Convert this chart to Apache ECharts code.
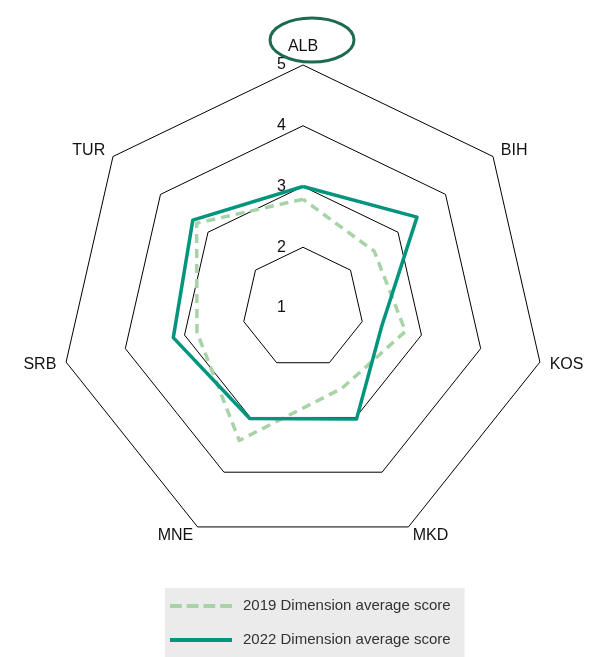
<!DOCTYPE html>
<html>
<head>
<meta charset="utf-8">
<script src="https://cdn.jsdelivr.net/npm/echarts@6/dist/echarts.min.js"></script>
<style>
  html, body { margin: 0; padding: 0; background: #ffffff; }
  #chart { width: 594px; height: 657px; }
</style>
</head>
<body>
<div id="chart"></div>
<script>
// Countries, listed clockwise from the top
const countries = ['ALB', 'BIH', 'KOS', 'MKD', 'MNE', 'SRB', 'TUR'];
const scores2019 = [2.79, 2.50, 2.73, 2.47, 3.42, 2.79, 3.24];
const scores2022 = [3.00, 3.40, 2.33, 3.03, 3.02, 3.19, 3.32];
const seriesNames = ['2019 Dimension average score', '2022 Dimension average score'];
const scaleMin = 1;
const scaleMax = 5;

const FONT = '"Liberation Sans", Arial, sans-serif';

// ECharts lays radar indicators out counter-clockwise, so reverse all but the first
function ccw(arr) { return [arr[0]].concat(arr.slice(1).reverse()); }

const indicators = ccw(countries).map((name, i) => ({
  name: name,
  min: scaleMin,
  max: scaleMax,
  axisLabel: { show: i === 0 }
}));

const chart = echarts.init(document.getElementById('chart'), null, { renderer: 'canvas' });

chart.setOption({
  animation: false,
  backgroundColor: '#ffffff',
  radar: {
    center: [303, 308],
    radius: 243,
    startAngle: 90,
    shape: 'polygon',
    splitNumber: 4,
    indicator: indicators,
    nameGap: 10,
    axisName: { color: '#111111', fontFamily: FONT, fontSize: 16 },
    axisLine: { show: false },
    axisTick: { show: false },
    splitArea: { show: false },
    splitLine: { lineStyle: { color: '#000000', width: 1 } },
    axisLabel: {
      show: true,
      color: '#111111',
      fontFamily: FONT,
      fontSize: 16,
      margin: 17,
      showMinLabel: true,
      showMaxLabel: true
    }
  },
  legend: {
    orient: 'vertical',
    left: 165,
    top: 588,
    height: 120,
    backgroundColor: '#ebebeb',
    padding: [8, 14, 30, 5],
    itemWidth: 62,
    itemHeight: 4,
    itemGap: 14,
    textStyle: { color: '#333333', fontFamily: FONT, fontSize: 15, lineHeight: 20, padding: [0, 0, 0, 6] },
    data: [
      { name: seriesNames[0], icon: 'path://M0,0h12v4h-12z M17,0h12v4h-12z M34,0h12v4h-12z M51,0h12v4h-12z', itemStyle: { color: '#a7d3a6' } },
      { name: seriesNames[1], icon: 'rect', itemStyle: { color: '#00957c' } }
    ]
  },
  series: [
    {
      type: 'radar',
      symbol: 'none',
      data: [
        {
          name: seriesNames[0],
          value: ccw(scores2019),
          itemStyle: { color: '#a7d3a6' },
          lineStyle: { color: '#a7d3a6', width: 3.5, type: [9, 6] }
        }
      ]
    },
    {
      type: 'radar',
      symbol: 'none',
      data: [
        {
          name: seriesNames[1],
          value: ccw(scores2022),
          itemStyle: { color: '#00957c' },
          lineStyle: { color: '#00957c', width: 3.5 }
        }
      ]
    }
  ],
  graphic: [
    {
      type: 'ellipse',
      shape: { cx: 312, cy: 40, rx: 42, ry: 22 },
      style: { fill: 'none', stroke: '#1d6a50', lineWidth: 3 },
      z: 100
    }
  ]
});
</script>
</body>
</html>
